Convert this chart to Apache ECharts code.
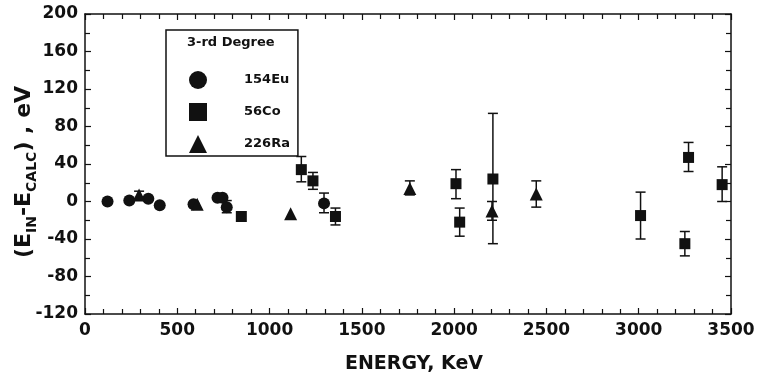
<!DOCTYPE html>
<html>
<head>
<meta charset="utf-8">
<script src="https://cdn.jsdelivr.net/npm/echarts@6/dist/echarts.min.js"></script>
<style>
  html, body { margin: 0; padding: 0; background: #fff; }
  #chart { width: 758px; height: 380px; }
</style>
</head>
<body>
<div id="chart"></div>
<script>
// energy (keV), E_IN - E_CALC (eV)
const eu154 = [[122, 0], [240, 1], [343, 3], [405, -4], [588, -3], [718, 4], [745, 4], [768, -6], [1295, -2]];
const co56 = [[847, -16], [1172, 34], [1235, 22], [1357, -16], [2010, 19], [2030, -22], [2210, 24], [3010, -15], [3250, -45], [3270, 47], [3452, 18]];
const ra226 = [[293, 7], [608, -3], [1114, -13], [1760, 14], [2205, -10], [2445, 8]];

// error bars: energy, low, high
const eu154Err = [[768, -12, 1], [1295, -12, 9]];
const co56Err = [[1172, 21, 48], [1235, 13, 31], [1357, -25, -7], [2010, 3, 34], [2030, -37, -7], [2210, -45, 94], [3010, -40, 10], [3250, -58, -32], [3270, 32, 63], [3452, 0, 37]];
const ra226Err = [[293, 3, 11], [1760, 7, 22], [2205, -20, 0], [2445, -6, 22]];

const seriesNames = ["154Eu", "56Co", "226Ra"];

const ink = "#111";
const font = "DejaVu Sans";

const chart = echarts.init(document.getElementById("chart"));

const errorBars = (data) => ({
    type: "custom",
    silent: true,
    z: 1,
    encode: { x: 0, y: [1, 2] },
    data: data,
    renderItem: (params, api) => {
        const x = api.value(0);
        const top = api.coord([x, api.value(2)]);
        const bottom = api.coord([x, api.value(1)]);
        const cap = 5;
        const style = { stroke: ink, lineWidth: 1.5 };
        return {
            type: "group",
            children: [
                { type: "line", shape: { x1: top[0], y1: top[1], x2: bottom[0], y2: bottom[1] }, style: style },
                { type: "line", shape: { x1: top[0] - cap, y1: top[1], x2: top[0] + cap, y2: top[1] }, style: style },
                { type: "line", shape: { x1: bottom[0] - cap, y1: bottom[1], x2: bottom[0] + cap, y2: bottom[1] }, style: style },
            ],
        };
    },
});

const axisCommon = {
    min: 0,
    axisLine: { show: true, onZero: false, lineStyle: { color: ink, width: 1.5 } },
    axisTick: { show: true, inside: true, length: 6, lineStyle: { color: ink, width: 1.2 } },
    minorTick: { show: true, length: 5, lineStyle: { color: ink, width: 1.2 } },
    splitLine: { show: false },
};

const option = {
    animation: false,
    backgroundColor: "#fff",
    title: {
        text: "3-rd Degree",
        left: 187,
        top: 36,
        padding: 0,
        textStyle: { fontFamily: font, fontWeight: "bold", fontSize: 13, color: ink },
    },
    legend: {
        data: seriesNames,
        orient: "vertical",
        left: 166,
        top: 30,
        padding: [41, 8, 3, 23],
        itemWidth: 18,
        itemHeight: 18,
        itemGap: 14,
        borderColor: ink,
        borderWidth: 1.5,
        selectedMode: false,
        textStyle: { fontFamily: font, fontWeight: "bold", fontSize: 13, color: ink, padding: [0, 0, 0, 32] },
    },
    grid: { left: 85, right: 27, top: 14, bottom: 66, outerBoundsMode: "none" },
    xAxis: [
        {
            ...axisCommon,
            type: "value",
            position: "bottom",
            max: 3500,
            interval: 500,
            minorTick: { ...axisCommon.minorTick, splitNumber: 5 },
            axisLabel: { margin: 8, fontFamily: font, fontWeight: "bold", fontSize: 17, color: ink, formatter: (v) => String(v) },
            name: "ENERGY, KeV",
            nameLocation: "middle",
            nameGap: 41,
            nameMoveOverlap: false,
            nameTextStyle: { fontFamily: font, fontWeight: "bold", fontSize: 19, color: ink, padding: [0, 0, 0, 12] },
        },
        {
            ...axisCommon,
            type: "value",
            position: "top",
            max: 3500,
            interval: 500,
            minorTick: { ...axisCommon.minorTick, splitNumber: 5 },
            axisLabel: { show: false },
        },
    ],
    yAxis: [
        {
            ...axisCommon,
            type: "value",
            position: "left",
            min: -120,
            max: 200,
            interval: 40,
            minorTick: { ...axisCommon.minorTick, splitNumber: 2 },
            axisLabel: { margin: 7, fontFamily: font, fontWeight: "bold", fontSize: 17, color: ink },
            name: "{a|(E}{s|IN}{a|-E}{s|CALC}{a|) , eV}",
            nameLocation: "middle",
            nameGap: 46,
            nameMoveOverlap: false,
            nameRotate: 90,
            nameTextStyle: {
                padding: [0, 16, 0, 0],
                rich: {
                    a: { fontFamily: font, fontWeight: "bold", fontSize: 22, color: ink, lineHeight: 30 },
                    s: { fontFamily: font, fontWeight: "bold", fontSize: 14, color: ink, verticalAlign: "bottom" },
                },
            },
        },
        {
            ...axisCommon,
            type: "value",
            position: "right",
            min: -120,
            max: 200,
            interval: 40,
            minorTick: { ...axisCommon.minorTick, splitNumber: 2 },
            axisLabel: { show: false },
        },
    ],
    series: [
        errorBars(eu154Err),
        errorBars(co56Err),
        errorBars(ra226Err),
        {
            name: "154Eu",
            type: "scatter",
            symbol: "circle",
            symbolSize: 12,
            itemStyle: { color: ink, opacity: 1 },
            z: 3,
            data: eu154,
        },
        {
            name: "56Co",
            type: "scatter",
            symbol: "rect",
            symbolSize: 11,
            itemStyle: { color: ink, opacity: 1 },
            z: 3,
            data: co56,
        },
        {
            name: "226Ra",
            type: "scatter",
            symbol: "triangle",
            symbolSize: 13,
            itemStyle: { color: ink, opacity: 1 },
            z: 3,
            data: ra226,
        },
    ],
};

chart.setOption(option);

window.addEventListener("resize", () => {
    chart.resize();
});
</script>
</body>
</html>
